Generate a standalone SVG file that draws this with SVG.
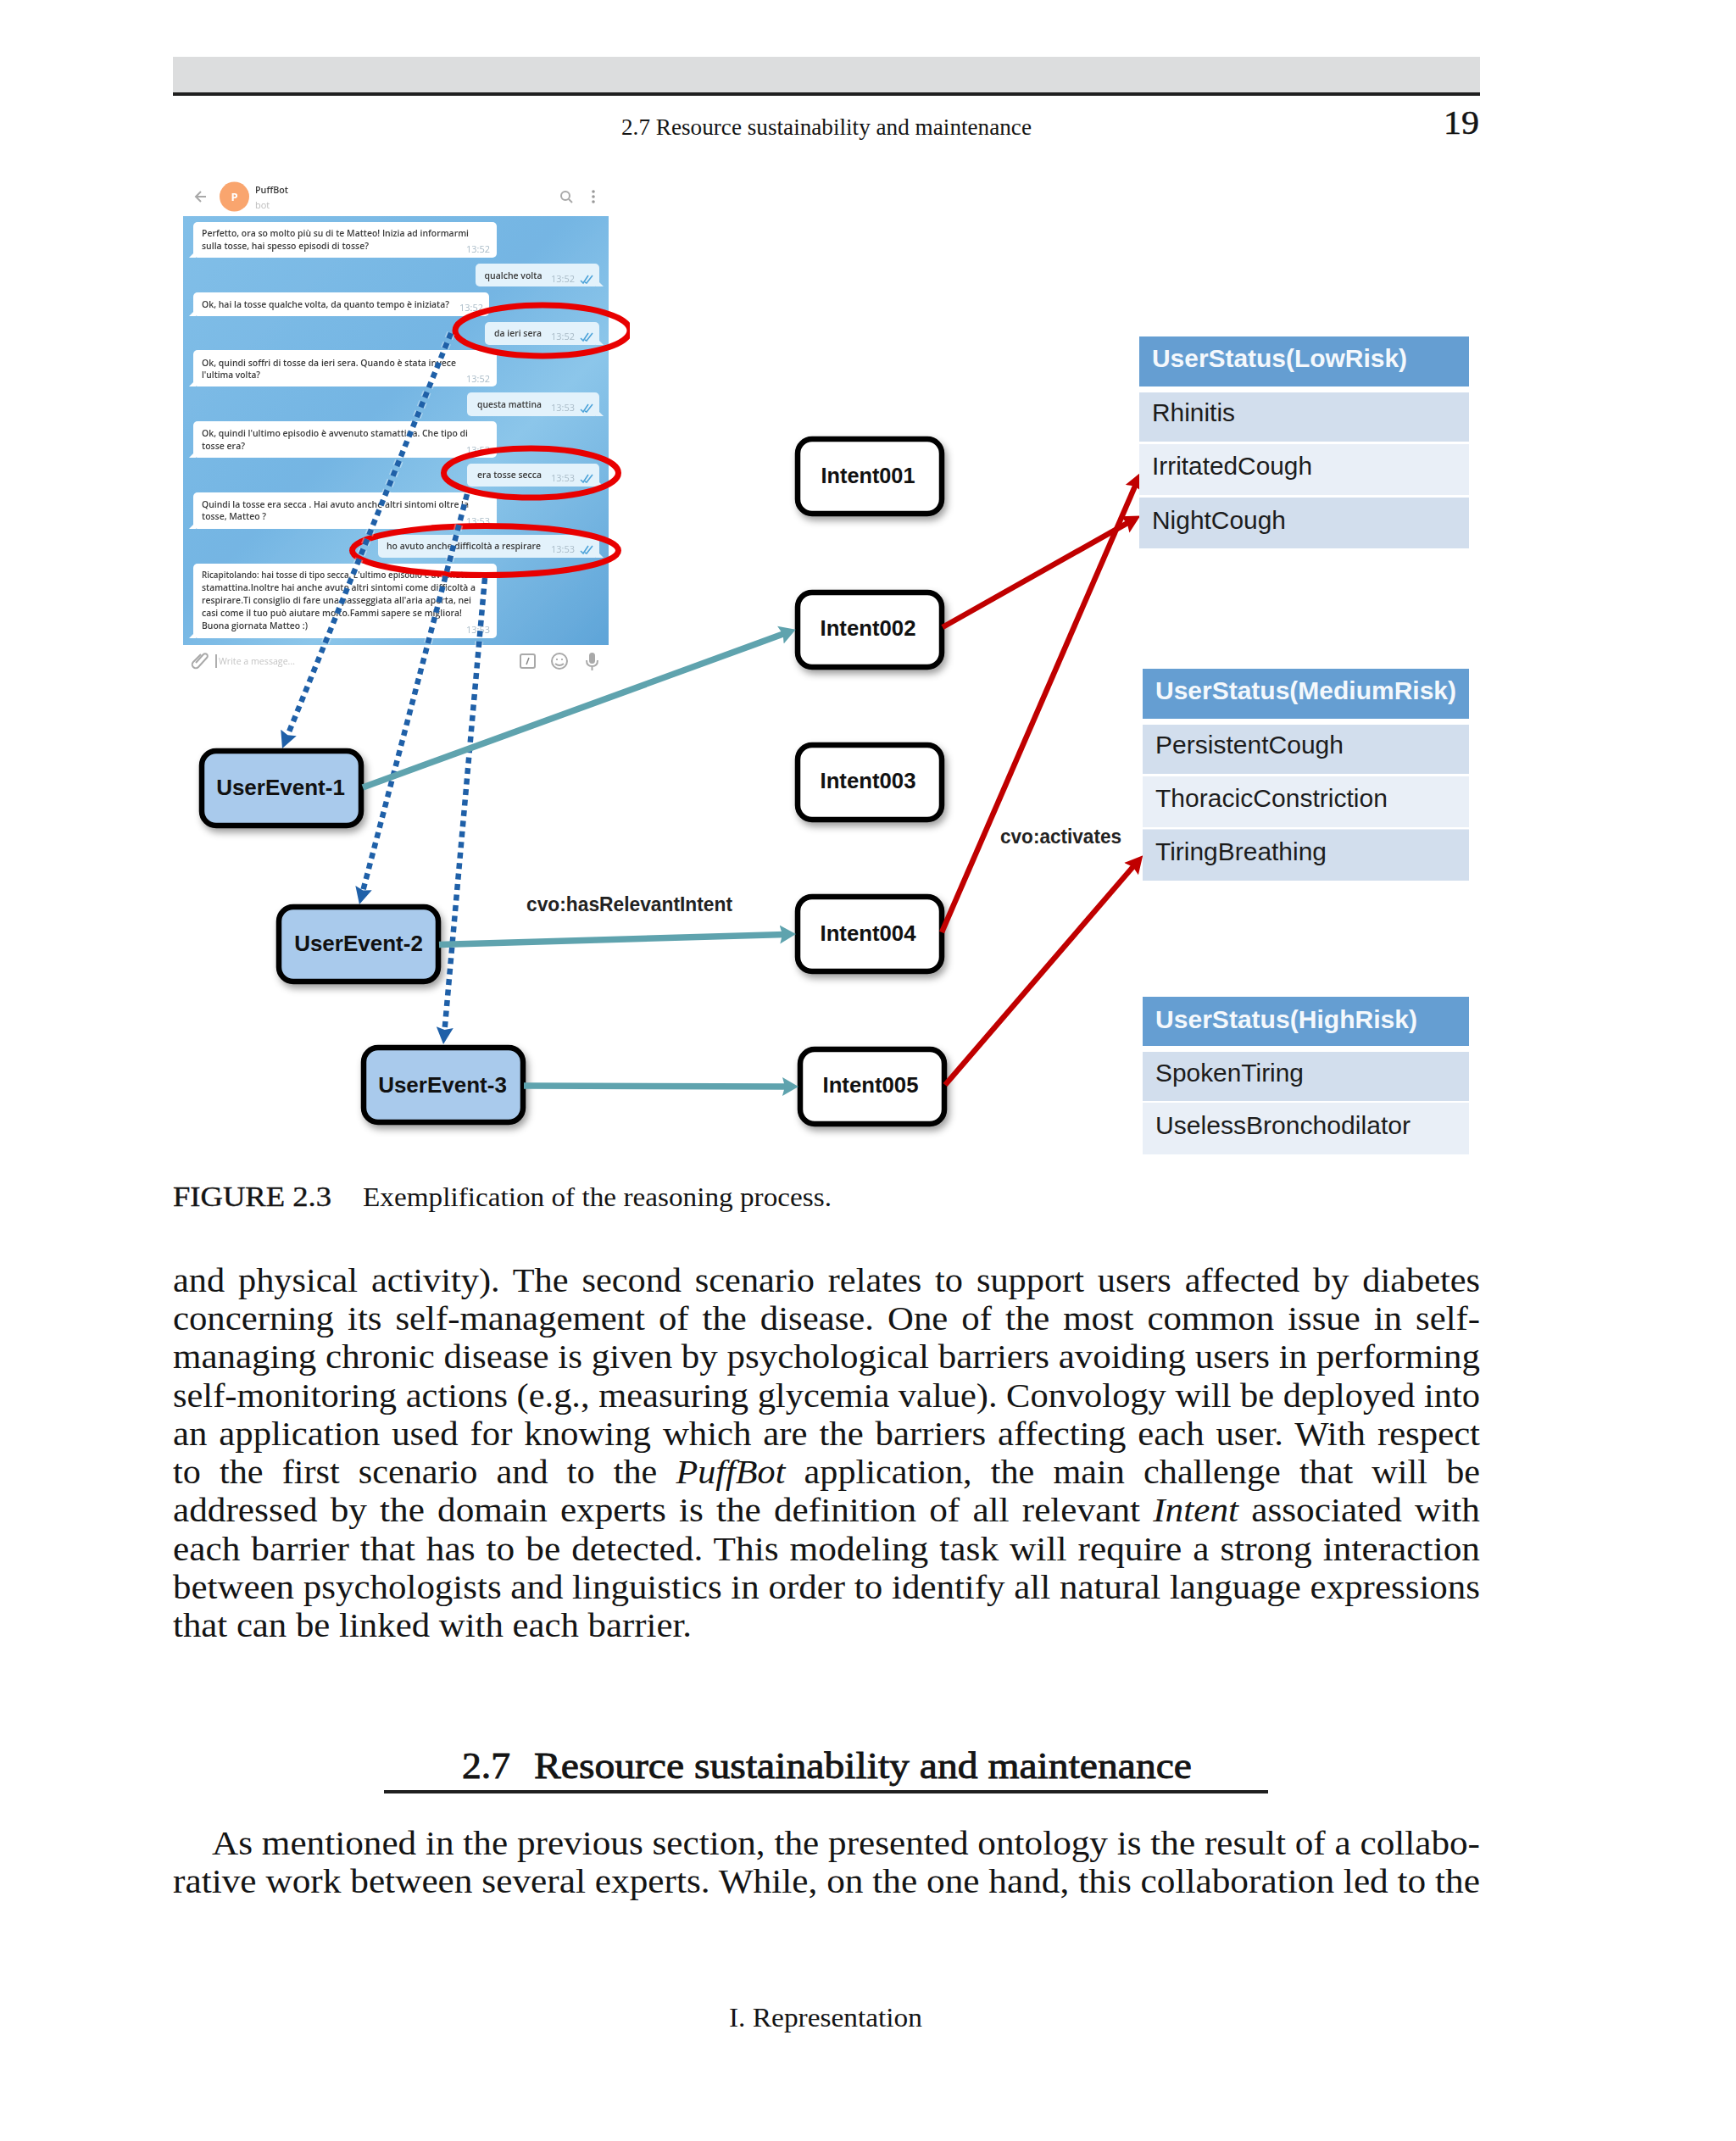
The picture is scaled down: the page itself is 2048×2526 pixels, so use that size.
<svg xmlns="http://www.w3.org/2000/svg" width="2048" height="2526" viewBox="0 0 2048 2526">
<style>
.s{font-family:"Liberation Serif","Times New Roman",serif;fill:#141414}
.b{font-size:40px}
.n{font-family:"Liberation Sans",Arial,sans-serif;font-weight:700;font-size:26px;fill:#111}
.nc{text-anchor:middle}
.l{font-family:"Liberation Sans",Arial,sans-serif;font-weight:700;font-size:23px;fill:#222}
.h{font-family:"Liberation Sans",Arial,sans-serif;font-weight:700;font-size:30px;fill:#f4f8fc}
.r{font-family:"Liberation Sans",Arial,sans-serif;font-size:30px;fill:#1c1c1c}
.c{font-family:"Open Sans","Liberation Sans",sans-serif;font-size:11.5px;font-weight:600;fill:#3a3a3a}
.t{font-family:"Open Sans","Liberation Sans",sans-serif;font-size:11px;fill:#a9bbc7}
.box{stroke:#000;stroke-width:6.500}
.ue{fill:#a9caec}
.in{fill:#fff}
.hd{fill:#659ed2}
.d{fill:#d2deed}
.e{fill:#e9eff7}
.bub{fill:#fff}
.me{fill:#e3f2fb}
.ring{fill:none;stroke:#e80000;stroke-width:7}
.teal{stroke:#5fa3ae;stroke-width:7.500;fill:none;marker-end:url(#ta)}
.red{stroke:#c00000;stroke-width:6.500;fill:none;marker-end:url(#ra)}
.dash{stroke:#1f60a8;stroke-width:6.500;stroke-dasharray:7 5.500;fill:none;marker-end:url(#ba)}
.halo{stroke:#fff;stroke-width:10;stroke-dasharray:7 5.500;opacity:.35;fill:none}
.ico{fill:none;stroke:#a9a9a9;stroke-width:2}
.tick{fill:none;stroke:#4da3d9;stroke-width:1.600}
</style>
<defs>
<marker id="ta" markerUnits="userSpaceOnUse" markerWidth="22" markerHeight="24" refX="6" refY="12" orient="auto"><path d="M0 1L19 12L0 23L3 12Z" fill="#5fa3ae"/></marker>
<marker id="ra" markerUnits="userSpaceOnUse" markerWidth="24" markerHeight="24" refX="8" refY="12" orient="auto"><path d="M0 1L21 12L0 23L3 12Z" fill="#c00000"/></marker>
<marker id="ba" markerUnits="userSpaceOnUse" markerWidth="22" markerHeight="24" refX="8" refY="12" orient="auto"><path d="M0 2L20 12L0 22L3 12Z" fill="#1f60a8"/></marker>
<filter id="sh" x="-10%" y="-10%" width="125%" height="135%"><feDropShadow dx="3" dy="5" stdDeviation="4" flood-color="#000" flood-opacity=".38"/></filter>
<filter id="soft" x="0" y="0" width="100%" height="100%"><feGaussianBlur stdDeviation=".45"/></filter>
<linearGradient id="chat" x1="0" y1="0" x2="1" y2="1"><stop offset="0" stop-color="#82bfe8"/><stop offset=".45" stop-color="#74b5e3"/><stop offset=".65" stop-color="#8cc6ea"/><stop offset="1" stop-color="#5ea4d8"/></linearGradient>
</defs>

<g id="page-header">
<rect x="204" y="67" width="1542" height="42" fill="#dcddde"/>
<rect x="204" y="109" width="1542" height="4" fill="#1f1f1f"/>
<text class="s" x="733" y="159" font-size="28" textLength="484" lengthAdjust="spacingAndGlyphs">2.7 Resource sustainability and maintenance</text>
<text class="s" x="1703" y="158" font-size="41" stroke="#141414" stroke-width=".5" textLength="42" lengthAdjust="spacingAndGlyphs">19</text>
</g>

<g id="chat-screenshot" filter="url(#soft)">
<rect x="216" y="212" width="502" height="43" fill="#fff"/>
<path d="M243 232H231M237 226L231 232L237 238" class="ico"/>
<circle cx="276.500" cy="232" r="17.500" fill="#f9a56e"/>
<text x="276.500" y="237" text-anchor="middle" font-family="Open Sans,sans-serif" font-size="13" font-weight="700" fill="#fff">P</text>
<text class="c" x="301" y="228" font-weight="700" font-size="11" textLength="39" lengthAdjust="spacingAndGlyphs">PuffBot</text>
<text x="301" y="246" font-family="Open Sans,sans-serif" font-size="11" fill="#bdbdbd">bot</text>
<circle cx="667" cy="231" r="5" class="ico"/><path d="M671 235L675 239" class="ico"/>
<circle cx="700" cy="226" r="1.800" fill="#999"/><circle cx="700" cy="232" r="1.800" fill="#999"/><circle cx="700" cy="238" r="1.800" fill="#999"/>
<rect x="216" y="255" width="502" height="506" fill="url(#chat)"/>

<path class="bub" d="M223 304h8v-8z"/><rect class="bub" x="228" y="262" width="358" height="42" rx="5"/>
<text class="c" x="238" y="279" textLength="315" lengthAdjust="spacingAndGlyphs">Perfetto, ora so molto più su di te Matteo! Inizia ad informarmi</text>
<text class="c" x="238" y="294" textLength="197" lengthAdjust="spacingAndGlyphs">sulla tosse, hai spesso episodi di tosse?</text>
<text class="t" x="550" y="298">13:52</text>

<path class="me" d="M712 338h-9v-9z"/><rect class="me" x="561" y="311" width="146" height="27" rx="5"/>
<text class="c" x="571.500" y="329" textLength="68" lengthAdjust="spacingAndGlyphs">qualche volta</text>
<text class="t" x="650" y="333">13:52</text>
<path d="M685 331l3 3l6-9M690 333l2 1l7-9" class="tick"/>

<path class="bub" d="M223 373h8v-8z"/><rect class="bub" x="228" y="345" width="349" height="28" rx="5"/>
<text class="c" x="238" y="363" textLength="292" lengthAdjust="spacingAndGlyphs">Ok, hai la tosse qualche volta, da quanto tempo è iniziata?</text>
<text class="t" x="542" y="367">13:52</text>

<path class="me" d="M712 407h-9v-9z"/><rect class="me" x="572" y="380" width="135" height="27" rx="5"/>
<text class="c" x="583" y="397" textLength="56" lengthAdjust="spacingAndGlyphs">da ieri sera</text>
<text class="t" x="650" y="401">13:52</text>
<path d="M685 399l3 3l6-9M690 401l2 1l7-9" class="tick"/>

<path class="bub" d="M223 456h8v-8z"/><rect class="bub" x="228" y="413" width="358" height="43" rx="5"/>
<text class="c" x="238" y="432" textLength="300" lengthAdjust="spacingAndGlyphs">Ok, quindi soffri di tosse da ieri sera. Quando è stata invece</text>
<text class="c" x="238" y="446" textLength="69" lengthAdjust="spacingAndGlyphs">l'ultima volta?</text>
<text class="t" x="550" y="451">13:52</text>

<path class="me" d="M712 491h-9v-9z"/><rect class="me" x="551" y="463" width="156" height="28" rx="5"/>
<text class="c" x="563" y="481" textLength="76" lengthAdjust="spacingAndGlyphs">questa mattina</text>
<text class="t" x="650" y="485">13:53</text>
<path d="M685 483l3 3l6-9M690 485l2 1l7-9" class="tick"/>

<path class="bub" d="M223 540h8v-8z"/><rect class="bub" x="228" y="497" width="358" height="43" rx="5"/>
<text class="c" x="238" y="515" textLength="314" lengthAdjust="spacingAndGlyphs">Ok, quindi l'ultimo episodio è avvenuto stamattina. Che tipo di</text>
<text class="c" x="238" y="530" textLength="51" lengthAdjust="spacingAndGlyphs">tosse era?</text>
<text class="t" x="550" y="535">13:53</text>

<path class="me" d="M712 574h-9v-9z"/><rect class="me" x="551" y="547" width="156" height="27" rx="5"/>
<text class="c" x="563" y="564" textLength="76" lengthAdjust="spacingAndGlyphs">era tosse secca</text>
<text class="t" x="650" y="568">13:53</text>
<path d="M685 566l3 3l6-9M690 568l2 1l7-9" class="tick"/>

<path class="bub" d="M223 624h8v-8z"/><rect class="bub" x="228" y="581" width="358" height="43" rx="5"/>
<text class="c" x="238" y="599" textLength="315" lengthAdjust="spacingAndGlyphs">Quindi la tosse era secca . Hai avuto anche altri sintomi oltre la</text>
<text class="c" x="238" y="613" textLength="76" lengthAdjust="spacingAndGlyphs">tosse, Matteo ?</text>
<text class="t" x="550" y="619">13:53</text>

<path class="me" d="M712 658h-9v-9z"/><rect class="me" x="446" y="631" width="261" height="27" rx="5"/>
<text class="c" x="456" y="648" textLength="182" lengthAdjust="spacingAndGlyphs">ho avuto anche difficoltà a respirare</text>
<text class="t" x="650" y="652">13:53</text>
<path d="M685 650l3 3l6-9M690 652l2 1l7-9" class="tick"/>

<path class="bub" d="M223 753h8v-8z"/><rect class="bub" x="228" y="665" width="358" height="88" rx="5"/>
<text class="c" x="238" y="682" textLength="315" lengthAdjust="spacingAndGlyphs">Ricapitolando: hai tosse di tipo secca. L'ultimo episodio è avvenuto</text>
<text class="c" x="238" y="697" textLength="323" lengthAdjust="spacingAndGlyphs">stamattina.Inoltre hai anche avuto altri sintomi come difficoltà a</text>
<text class="c" x="238" y="712" textLength="318" lengthAdjust="spacingAndGlyphs">respirare.Ti consiglio di fare una passeggiata all'aria aperta, nei</text>
<text class="c" x="238" y="727" textLength="307" lengthAdjust="spacingAndGlyphs">casi come il tuo può aiutare molto.Fammi sapere se migliora!</text>
<text class="c" x="238" y="742" textLength="125" lengthAdjust="spacingAndGlyphs">Buona giornata Matteo :)</text>
<text class="t" x="550" y="747">13:53</text>

<path d="M237 772l-9 9a4 4 0 0 0 6 6l10-11a2.500 2.500 0 0 0-4-4l-9 10" class="ico"/>
<path d="M255 772V788" stroke="#777" stroke-width="1.200"/>
<text x="258" y="784" font-family="Open Sans,sans-serif" font-size="11.500" fill="#c4c4c4" textLength="90" lengthAdjust="spacingAndGlyphs">Write a message...</text>
<rect x="614" y="772" width="17" height="16" rx="2" class="ico"/><path d="M624 776L621 784" stroke="#888" stroke-width="1.500"/>
<circle cx="660" cy="780" r="9" class="ico"/><circle cx="657" cy="778" r="1" fill="#999"/><circle cx="663" cy="778" r="1" fill="#999"/><path d="M655 783q5 4 10 0" class="ico" stroke-width="1.500"/>
<rect x="695" y="770" width="7" height="13" rx="3.500" fill="#a9a9a9"/><path d="M692 779q0 7 6.500 7t6.500-7M698.500 786V791" class="ico"/>

<ellipse class="ring" cx="640" cy="390" rx="103" ry="30"/>
<ellipse class="ring" cx="626.500" cy="558" rx="103" ry="29"/>
<ellipse class="ring" cx="572.500" cy="649.500" rx="157" ry="29"/>
</g>

<g id="connectors">
<path class="halo" d="M532 393L337.500 872"/>
<path class="halo" d="M551 583L427 1055.400"/>
<path class="halo" d="M572 682L524.100 1220"/>
<path class="dash" d="M532 393L337.500 872"/>
<path class="dash" d="M551 583L427 1055.400"/>
<path class="dash" d="M572 682L524.100 1220"/>
</g>

<g id="UserEvent-1"><rect class="box ue" x="238" y="886" width="188" height="88" rx="17" filter="url(#sh)"/><text class="n nc" x="331" y="938">UserEvent-1</text></g>
<g id="UserEvent-2"><rect class="box ue" x="329" y="1070" width="188" height="88" rx="17" filter="url(#sh)"/><text class="n nc" x="423" y="1122">UserEvent-2</text></g>
<g id="UserEvent-3"><rect class="box ue" x="429" y="1236" width="188" height="88" rx="17" filter="url(#sh)"/><text class="n nc" x="522" y="1289">UserEvent-3</text></g>

<g id="Intent001"><rect class="box in" x="941" y="518" width="170" height="88" rx="17" filter="url(#sh)"/><text class="n nc" x="1024" y="570" textLength="111" lengthAdjust="spacingAndGlyphs">Intent001</text></g>
<g id="Intent002"><rect class="box in" x="941" y="699" width="170" height="88" rx="17" filter="url(#sh)"/><text class="n nc" x="1024" y="750" textLength="113" lengthAdjust="spacingAndGlyphs">Intent002</text></g>
<g id="Intent003"><rect class="box in" x="941" y="879" width="170" height="88" rx="17" filter="url(#sh)"/><text class="n nc" x="1024" y="930" textLength="113" lengthAdjust="spacingAndGlyphs">Intent003</text></g>
<g id="Intent004"><rect class="box in" x="941" y="1058" width="170" height="88" rx="17" filter="url(#sh)"/><text class="n nc" x="1024" y="1110" textLength="113" lengthAdjust="spacingAndGlyphs">Intent004</text></g>
<g id="Intent005"><rect class="box in" x="944" y="1238" width="170" height="88" rx="17" filter="url(#sh)"/><text class="n nc" x="1027" y="1289" textLength="113" lengthAdjust="spacingAndGlyphs">Intent005</text></g>

<g id="connectors-arrows">
<path class="teal" d="M428 929L926.500 747.100"/>
<path class="teal" d="M518 1114.600L926 1102.400"/>
<path class="teal" d="M618 1281L929 1282"/>
<path class="red" d="M1112 740L1334 614.900"/>
<path class="red" d="M1111 1100L1341 569"/>
<path class="red" d="M1115 1280L1339.800 1019"/>
<text class="l" x="621" y="1075" textLength="243" lengthAdjust="spacingAndGlyphs">cvo:hasRelevantIntent</text>
<text class="l" x="1180" y="995" textLength="143" lengthAdjust="spacingAndGlyphs">cvo:activates</text>
</g>

<g id="UserStatus-LowRisk">
<rect class="hd" x="1344" y="397" width="389" height="59"/><rect class="d" x="1344" y="463" width="389" height="58"/><rect class="e" x="1344" y="524" width="389" height="60"/><rect class="d" x="1344" y="587" width="389" height="60"/>
<text class="h" x="1359" y="433" textLength="301" lengthAdjust="spacingAndGlyphs">UserStatus(LowRisk)</text>
<text class="r" x="1359" y="497" textLength="98" lengthAdjust="spacingAndGlyphs">Rhinitis</text>
<text class="r" x="1359" y="560" textLength="189" lengthAdjust="spacingAndGlyphs">IrritatedCough</text>
<text class="r" x="1359" y="624" textLength="158" lengthAdjust="spacingAndGlyphs">NightCough</text>
</g>
<g id="UserStatus-MediumRisk">
<rect class="hd" x="1348" y="789" width="385" height="59"/><rect class="d" x="1348" y="855" width="385" height="58"/><rect class="e" x="1348" y="916" width="385" height="60"/><rect class="d" x="1348" y="978.500" width="385" height="60.500"/>
<text class="h" x="1363" y="825" textLength="355" lengthAdjust="spacingAndGlyphs">UserStatus(MediumRisk)</text>
<text class="r" x="1363" y="889" textLength="222" lengthAdjust="spacingAndGlyphs">PersistentCough</text>
<text class="r" x="1363" y="952" textLength="274" lengthAdjust="spacingAndGlyphs">ThoracicConstriction</text>
<text class="r" x="1363" y="1015" textLength="202" lengthAdjust="spacingAndGlyphs">TiringBreathing</text>
</g>
<g id="UserStatus-HighRisk">
<rect class="hd" x="1348" y="1176" width="385" height="58"/><rect class="d" x="1348" y="1241" width="385" height="58"/><rect class="e" x="1348" y="1301" width="385" height="61"/>
<text class="h" x="1363" y="1213" textLength="309" lengthAdjust="spacingAndGlyphs">UserStatus(HighRisk)</text>
<text class="r" x="1363" y="1276" textLength="175" lengthAdjust="spacingAndGlyphs">SpokenTiring</text>
<text class="r" x="1363" y="1338" textLength="301" lengthAdjust="spacingAndGlyphs">UselessBronchodilator</text>
</g>

<g id="caption">
<text class="s" x="204" y="1423" font-size="33" stroke="#141414" stroke-width=".4" textLength="187" lengthAdjust="spacingAndGlyphs">FIGURE 2.3</text>
<text class="s" x="428" y="1423" font-size="31" textLength="553" lengthAdjust="spacingAndGlyphs">Exemplification of the reasoning process.</text>
</g>

<g id="body-text">
<text class="s b" x="204" y="1524" word-spacing="5" textLength="1542" lengthAdjust="spacingAndGlyphs">and physical activity). The second scenario relates to support users affected by diabetes</text>
<text class="s b" x="204" y="1569" word-spacing="5" textLength="1542" lengthAdjust="spacingAndGlyphs">concerning its self-management of the disease. One of the most common issue in self-</text>
<text class="s b" x="204" y="1614" textLength="1542" lengthAdjust="spacingAndGlyphs">managing chronic disease is given by psychological barriers avoiding users in performing</text>
<text class="s b" x="204" y="1660" textLength="1542" lengthAdjust="spacingAndGlyphs">self-monitoring actions (e.g., measuring glycemia value). Convology will be deployed into</text>
<text class="s b" x="204" y="1705" word-spacing="3" textLength="1542" lengthAdjust="spacingAndGlyphs">an application used for knowing which are the barriers affecting each user. With respect</text>
<text class="s b" x="204" y="1750" word-spacing="11" textLength="1542" lengthAdjust="spacingAndGlyphs">to the first scenario and to the <tspan font-style="italic">PuffBot</tspan> application, the main challenge that will be</text>
<text class="s b" x="204" y="1795" word-spacing="4" textLength="1542" lengthAdjust="spacingAndGlyphs">addressed by the domain experts is the definition of all relevant <tspan font-style="italic">Intent</tspan> associated with</text>
<text class="s b" x="204" y="1841" word-spacing="2" textLength="1542" lengthAdjust="spacingAndGlyphs">each barrier that has to be detected. This modeling task will require a strong interaction</text>
<text class="s b" x="204" y="1886" textLength="1542" lengthAdjust="spacingAndGlyphs">between psychologists and linguistics in order to identify all natural language expressions</text>
<text class="s b" x="204" y="1931" textLength="612" lengthAdjust="spacingAndGlyphs">that can be linked with each barrier.</text>
</g>

<g id="section">
<text class="s" x="545" y="2098" font-size="44" stroke="#141414" stroke-width=".9" textLength="57" lengthAdjust="spacingAndGlyphs">2.7</text>
<text class="s" x="630" y="2098" font-size="44" stroke="#141414" stroke-width=".9" textLength="776" lengthAdjust="spacingAndGlyphs">Resource sustainability and maintenance</text>
<rect x="453" y="2112" width="1043" height="4" fill="#1f1f1f"/>
<text class="s b" x="250" y="2188" textLength="1496" lengthAdjust="spacingAndGlyphs">As mentioned in the previous section, the presented ontology is the result of a collabo-</text>
<text class="s b" x="204" y="2233" textLength="1542" lengthAdjust="spacingAndGlyphs">rative work between several experts. While, on the one hand, this collaboration led to the</text>
</g>

<g id="page-footer">
<text class="s" x="860" y="2391" font-size="31" textLength="228" lengthAdjust="spacingAndGlyphs">I. Representation</text>
</g>
</svg>
